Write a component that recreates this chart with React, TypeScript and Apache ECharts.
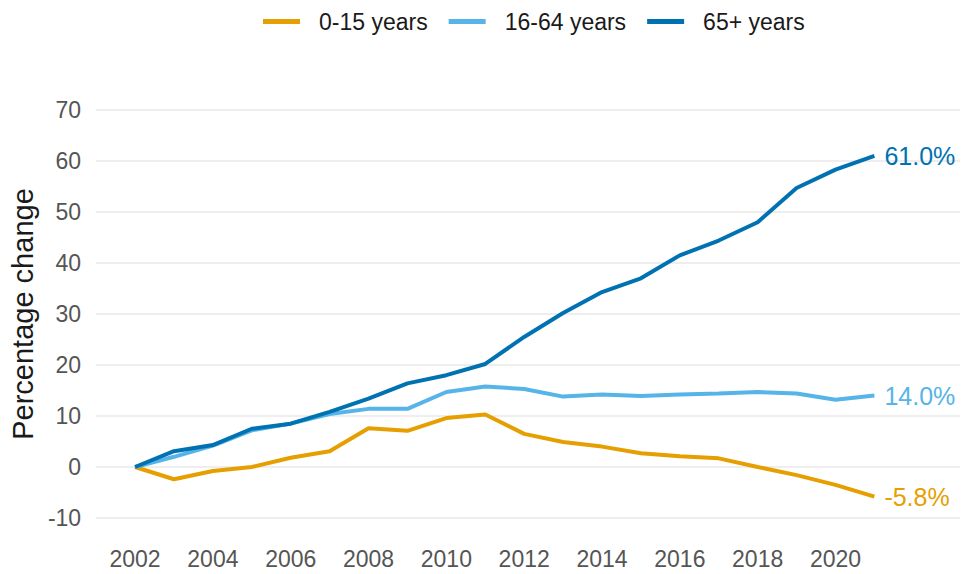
import React, { useEffect, useRef } from "react";
import * as echarts from "echarts";

const years = [2002, 2003, 2004, 2005, 2006, 2007, 2008, 2009, 2010, 2011, 2012, 2013, 2014, 2015, 2016, 2017, 2018, 2019, 2020, 2021];
const age0to15 = [0, -2.4, -0.8, 0, 1.8, 3.1, 7.6, 7.1, 9.6, 10.3, 6.5, 4.9, 4.0, 2.7, 2.1, 1.7, 0.0, -1.6, -3.5, -5.8];
const age16to64 = [0, 2.0, 4.2, 7.2, 8.5, 10.4, 11.4, 11.4, 14.7, 15.8, 15.3, 13.8, 14.2, 13.9, 14.2, 14.4, 14.7, 14.4, 13.2, 14.0];
const age65plus = [0, 3.1, 4.3, 7.5, 8.5, 10.8, 13.4, 16.4, 18.0, 20.2, 25.5, 30.2, 34.3, 37.0, 41.5, 44.4, 48.0, 54.7, 58.3, 61.0];
const seriesNames = ["0-15 years", "16-64 years", "65+ years"];
const seriesColors = ["#E69F00", "#56B4E9", "#0072B2"];
const xTickYears = [2002, 2004, 2006, 2008, 2010, 2012, 2014, 2016, 2018, 2020];

const FONT = "'Liberation Sans', Arial, sans-serif";

export default function App() {
  const ref = useRef<HTMLDivElement>(null);
  useEffect(() => {
    document.body.style.margin = "0";
    if (!ref.current) return;
    const chart = echarts.init(ref.current, undefined, { renderer: "svg" });
    const allData = [age0to15, age16to64, age65plus];
    chart.setOption({
      animation: false,
      backgroundColor: "#ffffff",
      textStyle: { fontFamily: FONT },
      legend: {
        top: 5,
        left: 258,
        icon: "rect",
        itemWidth: 37,
        itemHeight: 5,
        itemGap: 21,
        data: seriesNames,
        textStyle: { fontSize: 23, color: "#1a1a1a", fontFamily: FONT, padding: [0, 0, 0, 14] },
      },
      grid: { left: 92, right: 1, top: 110, bottom: 56, containLabel: false },
      xAxis: {
        type: "value",
        min: 2001,
        max: 2023.2,
        interval: 1,
        axisLine: { show: false },
        axisTick: { show: false },
        splitLine: { show: false },
        axisLabel: {
          fontSize: 23,
          color: "#555555",
          fontFamily: FONT,
          margin: 29,
          showMinLabel: true,
          showMaxLabel: false,
          formatter: (v: number) => (xTickYears.indexOf(Math.round(v)) >= 0 && Math.abs(v - Math.round(v)) < 1e-6 ? String(Math.round(v)) : ""),
        },
      },
      yAxis: {
        type: "value",
        min: -10,
        max: 70,
        interval: 10,
        name: "Percentage change",
        nameLocation: "middle",
        nameGap: 55,
        nameRotate: 90,
        nameTextStyle: { fontSize: 29, color: "#1a1a1a", fontFamily: FONT },
        axisLine: { show: false },
        axisTick: { show: false },
        axisLabel: { fontSize: 23, color: "#555555", fontFamily: FONT, margin: 15 },
        splitLine: { lineStyle: { color: "#e8e8e8", width: 1.6 } },
      },
      series: seriesNames.map((name, i) => ({
        name,
        type: "line",
        data: years.map((y, j) => [y, allData[i][j]]),
        symbol: "none",
        lineStyle: { width: 4, color: seriesColors[i] },
        itemStyle: { color: seriesColors[i] },
        endLabel: {
          show: true,
          distance: 10,
          fontSize: 25,
          color: seriesColors[i],
          fontFamily: FONT,
          formatter: (p: any) => `${(p.value[1] as number).toFixed(1)}%`,
        },
      })),
    });
    return () => chart.dispose();
  }, []);
  return <div ref={ref} style={{ width: 961, height: 574 }} />;
}
